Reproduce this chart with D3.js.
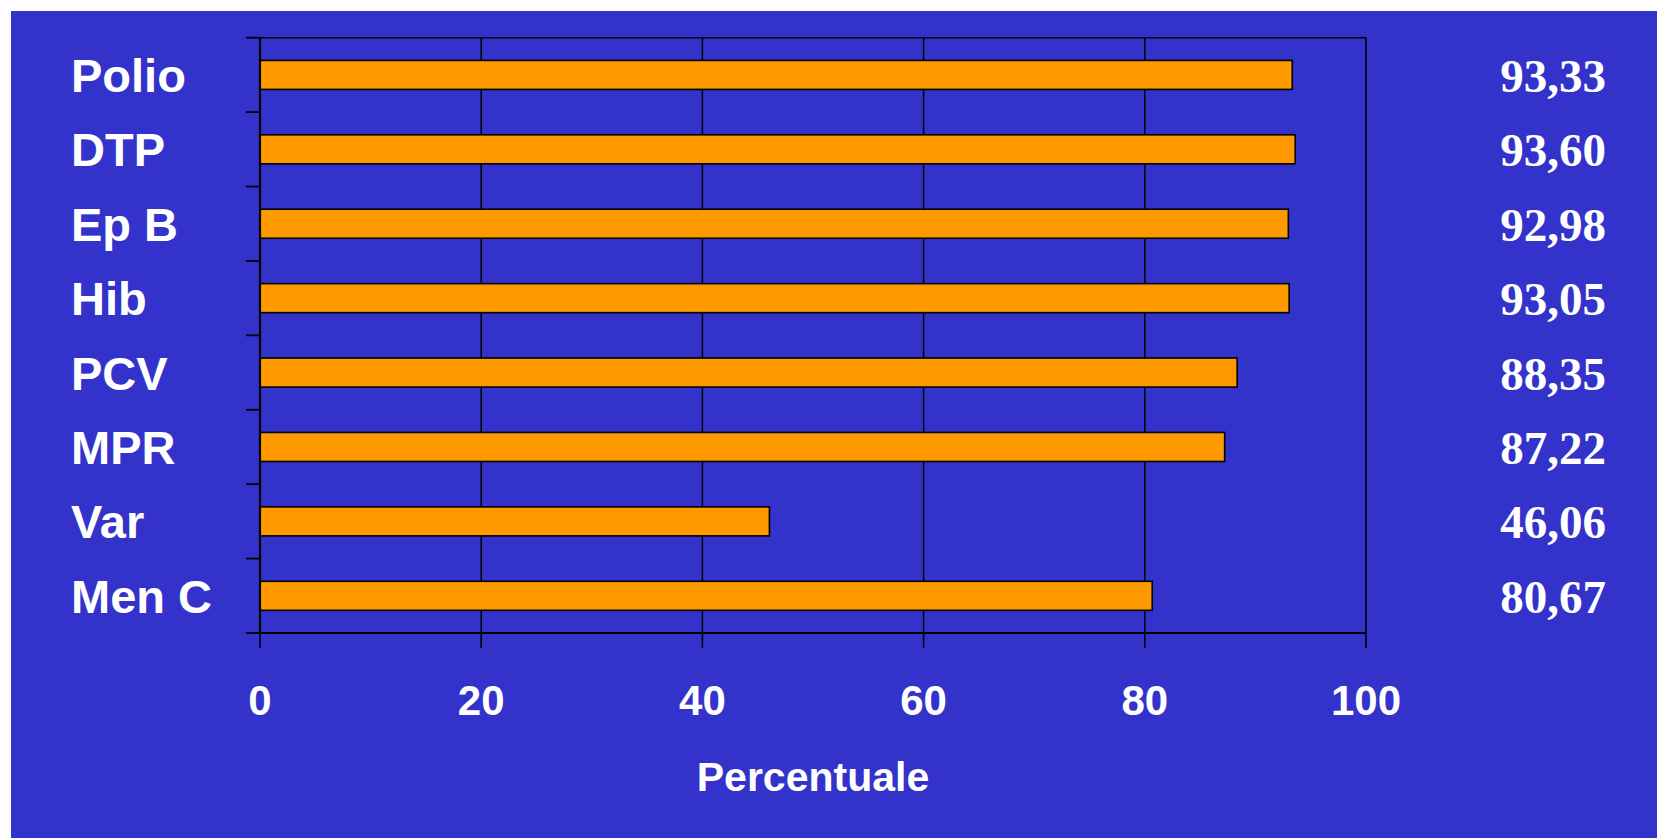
<!DOCTYPE html>
<html>
<head>
<meta charset="utf-8">
<script src="https://cdn.jsdelivr.net/npm/d3@7"></script>
<style>
  html, body { margin: 0; padding: 0; background: #ffffff; }
  svg { display: block; }
</style>
</head>
<body>
<svg id="chart" width="1657" height="838"></svg>
<script>
// ---- Data ----
const categories = ["Polio", "DTP", "Ep B", "Hib", "PCV", "MPR", "Var", "Men C"];
const values = [93.33, 93.60, 92.98, 93.05, 88.35, 87.22, 46.06, 80.67];
const xTicks = [0, 20, 40, 60, 80, 100];
const xTitle = "Percentuale";

// ---- Layout ----
const W = 1657, H = 838;
const plot = { left: 260, top: 37.7, right: 1366, bottom: 633 };
const blue = "#3333CC", orange = "#FF9900";

const svg = d3.select("#chart");
svg.append("rect").attr("x", 11).attr("y", 11).attr("width", W - 11).attr("height", H - 11).attr("fill", blue);

const x = d3.scaleLinear().domain([0, 100]).range([plot.left, plot.right]);
const y = d3.scaleBand().domain(categories).range([plot.top, plot.bottom]).paddingInner(0.61).paddingOuter(0.305);
const yb = d3.scaleLinear().domain([0, categories.length]).range([plot.top, plot.bottom]);

const fmt = d3.formatLocale({ decimal: ",", thousands: ".", grouping: [3], currency: ["", "€"] }).format(".2f");

// vertical gridlines
svg.append("g").selectAll("line").data(xTicks.filter(d => d > 0 && d < 100)).join("line")
  .attr("x1", d => x(d)).attr("x2", d => x(d))
  .attr("y1", plot.top).attr("y2", plot.bottom)
  .attr("stroke", "#000").attr("stroke-width", 1.5);

// frame top + right
svg.append("line").attr("x1", plot.left).attr("x2", plot.right).attr("y1", plot.top).attr("y2", plot.top)
  .attr("stroke", "#000").attr("stroke-width", 1.5);
svg.append("line").attr("x1", plot.right).attr("x2", plot.right).attr("y1", plot.top).attr("y2", plot.bottom)
  .attr("stroke", "#000").attr("stroke-width", 1.5);

// bars
svg.append("g").selectAll("rect").data(categories).join("rect")
  .attr("x", x(0))
  .attr("y", d => y(d))
  .attr("width", (d, i) => x(values[i]) - x(0))
  .attr("height", y.bandwidth())
  .attr("fill", orange)
  .attr("stroke", "#000").attr("stroke-width", 1.6);

// y axis line and ticks (band boundaries)
svg.append("line").attr("x1", plot.left).attr("x2", plot.left).attr("y1", plot.top).attr("y2", plot.bottom)
  .attr("stroke", "#000").attr("stroke-width", 2.2);
svg.append("g").selectAll("line").data(d3.range(categories.length + 1)).join("line")
  .attr("x1", plot.left - 14).attr("x2", plot.left)
  .attr("y1", d => yb(d)).attr("y2", d => yb(d))
  .attr("stroke", "#000").attr("stroke-width", 1.8);

// x axis line and ticks
svg.append("line").attr("x1", plot.left).attr("x2", plot.right).attr("y1", plot.bottom).attr("y2", plot.bottom)
  .attr("stroke", "#000").attr("stroke-width", 2);
svg.append("g").selectAll("line").data(xTicks).join("line")
  .attr("x1", d => x(d)).attr("x2", d => x(d))
  .attr("y1", plot.bottom).attr("y2", plot.bottom + 15)
  .attr("stroke", "#000").attr("stroke-width", 1.6);

// x tick labels
svg.append("g").selectAll("text").data(xTicks).join("text")
  .attr("x", d => x(d)).attr("y", 715)
  .attr("text-anchor", "middle")
  .attr("font-family", "Liberation Sans, Arial, sans-serif").attr("font-weight", "bold")
  .attr("font-size", 42).attr("fill", "#fff")
  .text(d => d);

// x title
svg.append("text").attr("x", (plot.left + plot.right) / 2).attr("y", 791)
  .attr("text-anchor", "middle")
  .attr("font-family", "Liberation Sans, Arial, sans-serif").attr("font-weight", "bold")
  .attr("font-size", 41).attr("fill", "#fff")
  .text(xTitle);

// category labels
svg.append("g").selectAll("text").data(categories).join("text")
  .attr("x", 71).attr("y", d => y(d) + y.bandwidth() / 2 + 17)
  .attr("font-family", "Liberation Sans, Arial, sans-serif").attr("font-weight", "bold")
  .attr("font-size", 47).attr("fill", "#fff")
  .text(d => d);

// value labels
svg.append("g").selectAll("text").data(categories).join("text")
  .attr("x", 1606).attr("y", d => y(d) + y.bandwidth() / 2 + 17)
  .attr("text-anchor", "end")
  .attr("font-family", "Liberation Serif, Times New Roman, serif").attr("font-weight", "bold")
  .attr("font-size", 47).attr("fill", "#fff")
  .text((d, i) => fmt(values[i]));
</script>
</body>
</html>
